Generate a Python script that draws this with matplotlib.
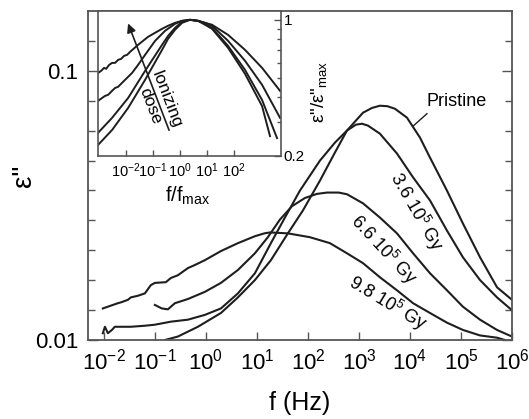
import numpy as np
import matplotlib
matplotlib.use("Agg")
import matplotlib.pyplot as plt
from matplotlib.ticker import FixedLocator, LogLocator, NullFormatter, LogFormatterSciNotation, FixedFormatter

plt.rcParams['font.family'] = ['Liberation Sans', 'DejaVu Sans']
plt.rcParams['mathtext.fontset'] = 'custom'
plt.rcParams['mathtext.rm'] = 'Liberation Sans'
plt.rcParams['mathtext.it'] = 'Liberation Sans:italic'
plt.rcParams['mathtext.default'] = 'regular'

# main plot: eps'' vs f (Hz)
pristine_f = [0.157, 0.282, 0.697, 1.97, 4.24, 9.14, 18.8, 40.5, 79.8, 172, 338, 582, 1200, 1800,
              2580, 3600, 5080, 8730, 15700, 24700, 53100, 109000, 236000, 508000, 1.0e6]
pristine_eps = [0.0100, 0.0103, 0.0112, 0.0126, 0.0144, 0.0167, 0.0198, 0.0249, 0.0303, 0.0391, 0.0497,
                0.0600, 0.0699, 0.0728, 0.0742, 0.0739, 0.0723, 0.0670, 0.0565, 0.0476, 0.0359, 0.0271,
                0.0203, 0.0157, 0.0141]

gy36_f = [0.00956, 0.0105, 0.0120, 0.0144, 0.0164, 0.0338, 0.0637, 0.100, 0.206, 0.444, 0.956, 1.97, 4.24,
          9.14, 18.8, 35.4, 69.7, 172, 338, 582, 873, 1150, 1500, 2580, 5560, 11500, 24700, 53100, 109000,
          236000, 508000, 1.0e6]
gy36_eps = [0.0106, 0.0112, 0.0106, 0.0109, 0.0112, 0.0112, 0.0113, 0.0114, 0.0117, 0.0119, 0.0124, 0.0131,
            0.0149, 0.0177, 0.0229, 0.0285, 0.0359, 0.0464, 0.0541, 0.0600, 0.0631, 0.0636, 0.0626, 0.0584,
            0.0493, 0.0402, 0.0330, 0.0255, 0.0203, 0.0167, 0.0144, 0.0129]

gy66_f = [0.100, 0.137, 0.180, 0.247, 0.444, 0.956, 1.97, 4.24, 9.14, 16.4, 28.2, 48.6, 87.3, 150, 236, 400,
          582, 1200, 2580, 5560, 11500, 24700, 53100, 109000, 236000, 508000, 1.0e6]
gy66_eps = [0.0135, 0.0131, 0.0130, 0.0137, 0.0142, 0.0151, 0.0163, 0.0182, 0.0210, 0.0241, 0.0280, 0.0314,
            0.0337, 0.0349, 0.0353, 0.0353, 0.0348, 0.0322, 0.0285, 0.0249, 0.0210, 0.0177, 0.0153, 0.0133,
            0.0119, 0.0109, 0.0103]

gy98_f = [0.00956, 0.0120, 0.0188, 0.0216, 0.0296, 0.0338, 0.0464, 0.0637, 0.0835, 0.100, 0.164, 0.206,
          0.282, 0.444, 0.609, 0.956, 1.97, 4.24, 9.14, 14.0, 18.0, 40.5, 109, 270, 582, 1200, 2580, 5560,
          11500, 24700, 53100, 109000, 236000, 508000, 729000]
gy98_eps = [0.0131, 0.0133, 0.0137, 0.0138, 0.0141, 0.0144, 0.0146, 0.0149, 0.0160, 0.0163, 0.0164, 0.0170,
            0.0174, 0.0185, 0.0190, 0.0198, 0.0214, 0.0229, 0.0243, 0.0249, 0.0251, 0.0249, 0.0241, 0.0229,
            0.0210, 0.0193, 0.0171, 0.0153, 0.0137, 0.0126, 0.0116, 0.0109, 0.0104, 0.0102, 0.0100]

# inset: normalised eps''/eps''max vs f/fmax
ins98_u = [0.000918, 0.00119, 0.00153, 0.00182, 0.00235, 0.00303, 0.00392, 0.00506, 0.00653, 0.00843,
           0.0109, 0.0141, 0.0278, 0.0653, 0.215, 0.360, 0.653, 1.19, 2.34, 4.64, 8.43, 15.3, 60.0, 255,
           1090, 5060]
ins98_v = [0.534, 0.547, 0.567, 0.560, 0.587, 0.601, 0.601, 0.623, 0.630, 0.653, 0.661, 0.685, 0.744, 0.818,
           0.899, 0.932, 0.965, 0.988, 1.0, 0.988, 0.965, 0.943, 0.837, 0.701, 0.567, 0.432]

ins66_u = [0.000918, 0.00129, 0.00167, 0.00215, 0.00303, 0.00392, 0.00506, 0.00711, 0.00918, 0.0167, 0.0278,
           0.0506, 0.119, 0.278, 0.653, 1.19, 2.34, 4.64, 8.43, 15.3, 60.0, 255, 1090, 5060]
ins66_v = [0.384, 0.397, 0.407, 0.412, 0.432, 0.447, 0.453, 0.475, 0.492, 0.534, 0.587, 0.661, 0.780, 0.878,
           0.954, 0.988, 1.0, 0.988, 0.965, 0.932, 0.780, 0.616, 0.464, 0.314]

ins36_u = [0.000918, 0.00303, 0.0119, 0.0506, 0.215, 0.360, 0.653, 1.19, 2.34, 4.64, 8.43, 15.3, 60.0, 255,
           1090, 3920]
ins36_v = [0.263, 0.314, 0.397, 0.547, 0.744, 0.827, 0.910, 0.977, 1.0, 0.988, 0.954, 0.910, 0.735, 0.553,
           0.388, 0.247]

insP_u = [0.000918, 0.00303, 0.0119, 0.0506, 0.215, 0.360, 0.653, 1.19, 2.34, 4.64, 8.43, 15.3, 60.0, 255,
          1090, 2150]
insP_v = [0.228, 0.272, 0.353, 0.492, 0.701, 0.799, 0.889, 0.965, 1.0, 0.988, 0.943, 0.899, 0.718, 0.528,
          0.361, 0.253]

line_c = '#1e1e1e'
spine_c = '#555555'

fig = plt.figure(figsize=(5.29, 4.19), dpi=100)
ax = fig.add_axes([0.1664, 0.1885, 0.8015, 0.7852])

for f, e in [(pristine_f, pristine_eps), (gy36_f, gy36_eps), (gy66_f, gy66_eps), (gy98_f, gy98_eps)]:
    ax.plot(f, e, color=line_c, lw=1.5)

ax.set_xscale('log')
ax.set_yscale('log')
ax.set_xlim(10 ** -2.31, 1e6)
ax.set_ylim(0.01, 10 ** (-7 / 9))

ax.xaxis.set_major_locator(FixedLocator([10.0 ** k for k in range(-2, 7)]))
ax.xaxis.set_major_formatter(LogFormatterSciNotation())
ax.xaxis.set_minor_locator(LogLocator(base=10, subs=np.arange(2, 10)))
ax.xaxis.set_minor_formatter(NullFormatter())
ax.yaxis.set_major_locator(FixedLocator([0.01, 0.1]))
ax.yaxis.set_major_formatter(FixedFormatter(['0.01', '0.1']))
ax.yaxis.set_minor_locator(FixedLocator([10 ** (-2 + k / 9) for k in range(1, 11) if k != 9]))
ax.yaxis.set_minor_formatter(NullFormatter())

ax.tick_params(which='both', direction='in', top=False, right=True, color=spine_c, width=1.0)
ax.tick_params(axis='x', which='major', length=6, labelsize=16, pad=6)
ax.tick_params(axis='x', which='minor', length=3)
ax.tick_params(axis='y', which='major', length=7, labelsize=16, pad=7)
ax.tick_params(axis='y', which='minor', length=5)
for s in ax.spines.values():
    s.set_color(spine_c)
    s.set_linewidth(1.3)

ax.set_xlabel('f (Hz)', fontsize=18)
ax.xaxis.set_label_coords(0.5, -0.155)
ax.set_ylabel('ε"', fontsize=20)
ax.yaxis.set_label_coords(-0.12, 0.5)

ax.text(83500, 0.0768, 'Pristine', fontsize=13, ha='center', va='center')
ax.plot([21500, 11800], [0.0693, 0.0626], color=line_c, lw=1.0)
ax.text(13100, 0.0298, '3.6 10$^5$ Gy', fontsize=13, rotation=-60, ha='center', va='center',
        rotation_mode='anchor')
ax.text(3090, 0.0217, '6.6 10$^5$ Gy', fontsize=13, rotation=-47, ha='center', va='center',
        rotation_mode='anchor')
ax.text(3600, 0.0137, '9.8 10$^5$ Gy', fontsize=13, rotation=-31, ha='center', va='center',
        rotation_mode='anchor')

# inset
ins = fig.add_axes([0.1853, 0.6277, 0.3459, 0.3461])
for u, v in [(ins98_u, ins98_v), (ins66_u, ins66_v), (ins36_u, ins36_v), (insP_u, insP_v)]:
    ins.plot(u, v, color=line_c, lw=1.4)
ins.set_xscale('log')
ins.set_yscale('log')
ins.set_xlim(10 ** -3.04, 10 ** 3.74)
ins.set_ylim(0.2, 1.11)
ins.xaxis.set_major_locator(FixedLocator([10.0 ** k for k in range(-2, 3)]))
ins.xaxis.set_major_formatter(LogFormatterSciNotation())
ins.xaxis.set_minor_locator(LogLocator(base=10, subs=np.arange(2, 10)))
ins.xaxis.set_minor_formatter(NullFormatter())
ins.yaxis.set_major_locator(FixedLocator([0.2, 1.0]))
ins.yaxis.set_major_formatter(FixedFormatter(['0.2', '1']))
ins.yaxis.set_minor_locator(FixedLocator([0.3, 0.4, 0.5, 0.6, 0.7, 0.8, 0.9]))
ins.yaxis.set_minor_formatter(NullFormatter())
ins.yaxis.tick_right()
ins.yaxis.set_label_position('right')
ins.tick_params(which='both', direction='in', top=False, left=False, right=True, color=spine_c, width=1.0)
ins.tick_params(axis='x', which='major', length=4, labelsize=10.5, pad=4)
ins.tick_params(axis='x', which='minor', length=2)
ins.tick_params(axis='y', which='major', length=5, labelsize=11, pad=2)
ins.tick_params(axis='y', which='minor', length=3)
for s in ins.spines.values():
    s.set_color(spine_c)
    s.set_linewidth(1.2)
ins.set_xlabel('f/f$_{max}$', fontsize=14.5)
ins.xaxis.set_label_coords(0.49, -0.2)
ins.set_ylabel('ε"/ε"$_{max}$', fontsize=13.5, rotation=90)
ins.yaxis.set_label_coords(1.155, 0.44)

ins.annotate('', xy=(0.0109, 0.988), xytext=(0.426, 0.263),
             arrowprops=dict(arrowstyle='-|>', color=line_c, lw=1.2, mutation_scale=13))
ins.text(0.153, 0.375, 'Ionizing\ndose', fontsize=12.5, rotation=-69, ha='center', va='center',
         rotation_mode='anchor', linespacing=1.15, multialignment='center')

fig.savefig('out.png', dpi=100)
